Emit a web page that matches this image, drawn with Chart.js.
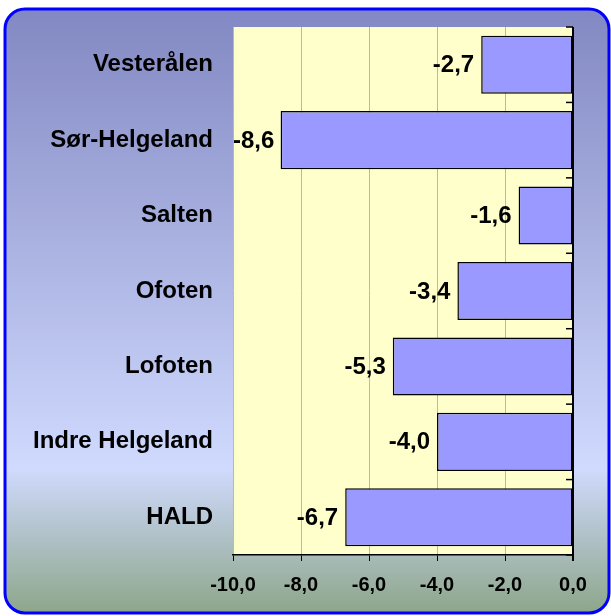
<!DOCTYPE html>
<html>
<head>
<meta charset="utf-8">
<script src="https://cdn.jsdelivr.net/npm/chart.js@4/dist/chart.umd.min.js"></script>
<style>
    html, body { margin: 0; padding: 0; background: #ffffff; }
    canvas { display: block; }
</style>
</head>
<body>
<canvas id="c_hald" width="611" height="616"></canvas>
<script>
const regions = ['Vesterålen', 'Sør-Helgeland', 'Salten', 'Ofoten', 'Lofoten', 'Indre Helgeland', 'HALD'];
const change = [-2.7, -8.6, -1.6, -3.4, -5.3, -4.0, -6.7];
const x_min = -10;
const x_max = 0;
const x_step = 2;

const font_family = '"Liberation Sans", Arial, sans-serif';

function fmt(v) {
    return Number(v).toFixed(1).replace('.', ',');
}

// rounded frame with gradient + yellow plot area
const frame_plugin = {
    id: 'frame',
    beforeDraw: (chart) => {
        const ctx = chart.ctx;
        const w = chart.width, h = chart.height;
        ctx.save();
        ctx.fillStyle = '#ffffff';
        ctx.fillRect(0, 0, w, h);

        const x0 = 5, y0 = 9, x1 = 609, y1 = 613, r = 20;
        ctx.beginPath();
        ctx.moveTo(x0 + r, y0);
        ctx.lineTo(x1 - r, y0);
        ctx.arcTo(x1, y0, x1, y0 + r, r);
        ctx.lineTo(x1, y1 - r);
        ctx.arcTo(x1, y1, x1 - r, y1, r);
        ctx.lineTo(x0 + r, y1);
        ctx.arcTo(x0, y1, x0, y1 - r, r);
        ctx.lineTo(x0, y0 + r);
        ctx.arcTo(x0, y0, x0 + r, y0, r);
        ctx.closePath();
        const g = ctx.createLinearGradient(0, y0, 0, y1);
        g.addColorStop(0, '#8288c2');
        g.addColorStop(0.76, '#d0dafe');
        g.addColorStop(1, '#8da68a');
        ctx.fillStyle = g;
        ctx.fill();
        ctx.lineWidth = 3;
        ctx.strokeStyle = '#0000ff';
        ctx.stroke();

        const a = chart.chartArea;
        ctx.fillStyle = '#ffffcc';
        ctx.fillRect(a.left, a.top, a.right - a.left, a.bottom - a.top);
        ctx.restore();
    },
    afterDraw: (chart) => {
        // zero axis line and category tick marks
        const ctx = chart.ctx;
        const a = chart.chartArea;
        const x0 = chart.scales.x.getPixelForValue(0);
        ctx.save();
        ctx.strokeStyle = '#000000';
        ctx.lineWidth = 2;
        ctx.beginPath();
        ctx.moveTo(x0, a.top);
        ctx.lineTo(x0, a.bottom + 6);
        ctx.stroke();
        ctx.lineWidth = 1.5;
        const n = regions.length;
        for (let i = 0; i <= n; i++) {
            const y = a.top + (a.bottom - a.top) * i / n;
            ctx.beginPath();
            ctx.moveTo(x0 - 7, y);
            ctx.lineTo(x0, y);
            ctx.stroke();
        }
        ctx.restore();
    }
};

const label_plugin = {
    id: 'barlabels',
    afterDatasetsDraw: (chart) => {
        const ctx = chart.ctx;
        const a = chart.chartArea;
        const meta = chart.getDatasetMeta(0);
        ctx.save();
        ctx.font = 'bold 24px ' + font_family;
        ctx.fillStyle = '#000000';
        ctx.textAlign = 'right';
        ctx.textBaseline = 'middle';
        meta.data.forEach((bar, i) => {
            const txt = fmt(change[i]);
            const tw = ctx.measureText(txt).width;
            const x = Math.max(bar.x - 7, a.left + tw);
            ctx.fillText(txt, x, bar.y + 1);
        });
        ctx.restore();
    }
};

const hald_data = {
    type: 'bar',
    data: {
        labels: regions,
        datasets: [
            {
                label: 'Endring',
                data: change,
                backgroundColor: '#9999ff',
                borderColor: '#000000',
                borderWidth: 1.5,
                borderSkipped: false,
                categoryPercentage: 1,
                barPercentage: 0.77
            }
        ]
    },
    options: {
        indexAxis: 'y',
        responsive: false,
        animation: false,
        devicePixelRatio: 1,
        layout: {
            padding: { top: 27, right: 38, left: 0, bottom: 0 }
        },
        plugins: {
            legend: { display: false },
            tooltip: { enabled: false }
        },
        scales: {
            x: {
                min: x_min,
                max: x_max,
                ticks: {
                    stepSize: x_step,
                    padding: 12,
                    color: '#000000',
                    font: { family: font_family, size: 20, weight: 'bold' },
                    callback: (v) => fmt(v)
                },
                grid: {
                    color: '#b9b9b0',
                    lineWidth: 1,
                    tickColor: '#000000',
                    tickLength: 6
                },
                border: { display: true, color: '#000000', width: 1.5 },
                afterFit: (scale) => {
                    scale.height = 61;
                }
            },
            y: {
                grid: { display: false, drawTicks: false },
                border: { display: false },
                ticks: {
                    padding: 20,
                    color: '#000000',
                    font: { family: font_family, size: 24, weight: 'bold' }
                },
                afterFit: (scale) => {
                    scale.width = 233;
                    // labels never reach the plot edges, so no extra room needed
                    scale.paddingTop = 0;
                    scale.paddingBottom = 0;
                }
            }
        }
    },
    plugins: [frame_plugin, label_plugin]
};

const c_hald = document.getElementById('c_hald');
var chart_hald = new Chart(c_hald, hald_data);
</script>
</body>
</html>
